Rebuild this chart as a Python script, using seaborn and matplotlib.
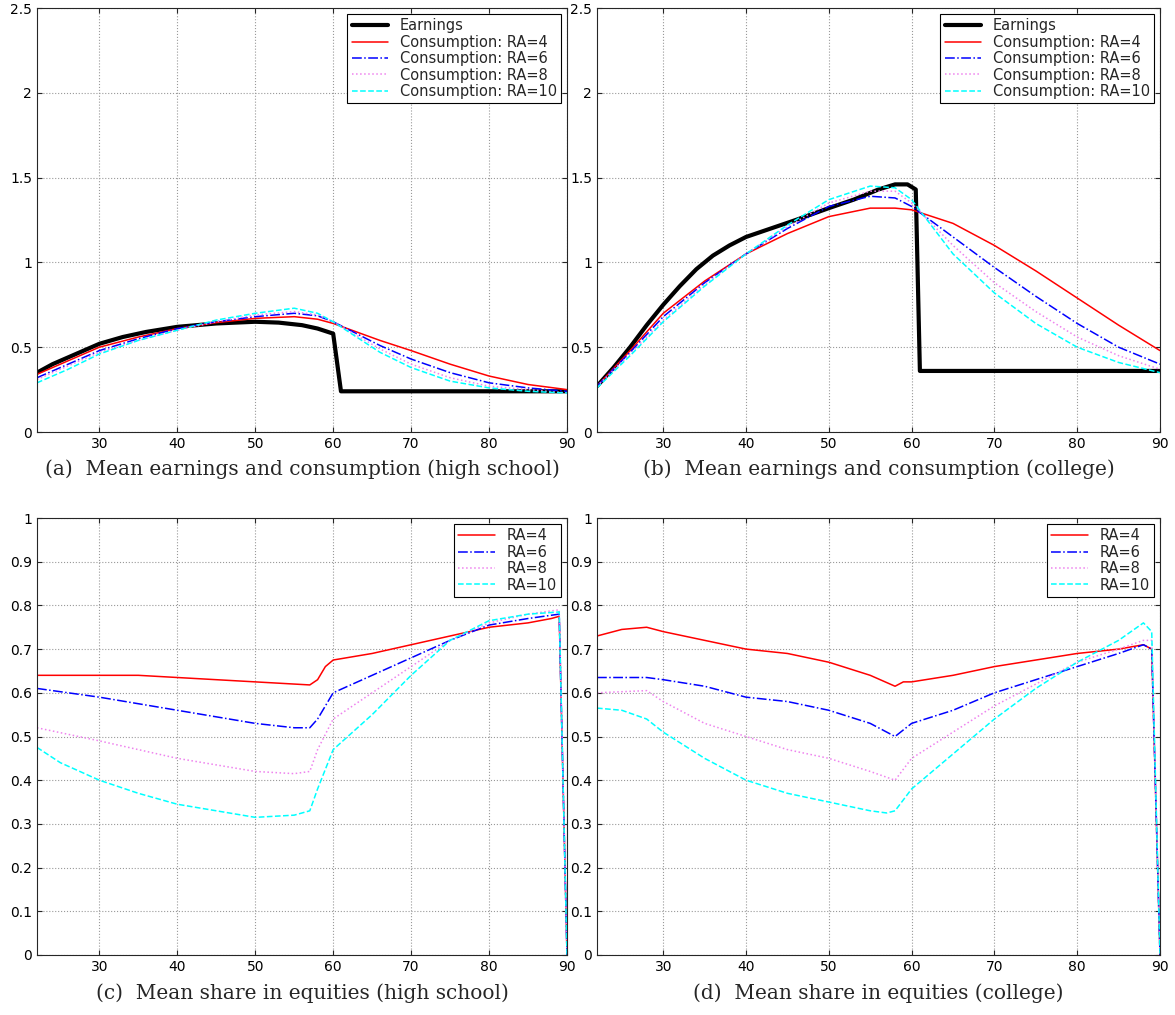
import numpy as np
import pandas as pd
import matplotlib
matplotlib.use("Agg")
import matplotlib.pyplot as plt
import seaborn as sns

sns.set_style("ticks")
plt.rcParams['font.family'] = ['DejaVu Sans']

# Panel (a)
a_earn_x = [22, 24, 26, 28, 30, 33, 36, 40, 45, 50, 53, 56, 58, 60, 61, 90]
a_earn_y = [0.35, 0.40, 0.44, 0.48, 0.52, 0.56, 0.59, 0.62, 0.64, 0.65, 0.645, 0.63, 0.61, 0.58, 0.24, 0.24]
a_x = [22, 26, 30, 35, 40, 45, 50, 55, 58, 60, 63, 66, 70, 75, 80, 85, 90]
a_ra4 = [0.34, 0.42, 0.50, 0.56, 0.61, 0.645, 0.67, 0.68, 0.665, 0.64, 0.59, 0.54, 0.48, 0.40, 0.33, 0.28, 0.25]
a_ra6 = [0.32, 0.40, 0.48, 0.55, 0.61, 0.65, 0.68, 0.70, 0.685, 0.65, 0.58, 0.51, 0.43, 0.35, 0.29, 0.26, 0.24]
a_ra8 = [0.31, 0.39, 0.47, 0.54, 0.60, 0.65, 0.69, 0.71, 0.69, 0.65, 0.57, 0.49, 0.40, 0.32, 0.27, 0.25, 0.23]
a_ra10 = [0.29, 0.37, 0.46, 0.54, 0.60, 0.66, 0.70, 0.73, 0.70, 0.65, 0.56, 0.47, 0.38, 0.30, 0.26, 0.24, 0.23]

# Panel (b)
b_earn_x = [22, 24, 26, 28, 30, 32, 34, 36, 38, 40, 43, 46, 50, 53, 56, 58, 59.5, 60.5, 61, 90]
b_earn_y = [0.27, 0.38, 0.50, 0.63, 0.75, 0.86, 0.96, 1.04, 1.10, 1.15, 1.20, 1.25, 1.32, 1.37, 1.43, 1.46, 1.46, 1.43, 0.36, 0.36]
b_x = [22, 26, 30, 35, 40, 45, 50, 55, 58, 60, 65, 70, 75, 80, 85, 90]
b_ra4 = [0.27, 0.48, 0.70, 0.89, 1.05, 1.17, 1.27, 1.32, 1.32, 1.31, 1.23, 1.10, 0.95, 0.79, 0.63, 0.48]
b_ra6 = [0.27, 0.47, 0.68, 0.88, 1.05, 1.20, 1.33, 1.39, 1.38, 1.33, 1.15, 0.97, 0.80, 0.64, 0.50, 0.40]
b_ra8 = [0.27, 0.46, 0.66, 0.87, 1.05, 1.21, 1.35, 1.42, 1.42, 1.35, 1.10, 0.88, 0.71, 0.56, 0.45, 0.37]
b_ra10 = [0.26, 0.45, 0.65, 0.86, 1.05, 1.22, 1.37, 1.45, 1.44, 1.37, 1.05, 0.82, 0.64, 0.50, 0.41, 0.35]

# Panel (c)
c_ra4_x = [22, 30, 35, 40, 45, 50, 55, 57, 58, 59, 60, 65, 70, 75, 80, 85, 88, 89, 90]
c_ra4_y = [0.64, 0.64, 0.64, 0.635, 0.63, 0.625, 0.62, 0.618, 0.63, 0.66, 0.675, 0.69, 0.71, 0.73, 0.75, 0.76, 0.77, 0.775, 0.0]
c_ra6_x = [22, 30, 40, 50, 55, 57, 58, 60, 65, 70, 75, 80, 85, 89, 90]
c_ra6_y = [0.61, 0.59, 0.56, 0.53, 0.52, 0.52, 0.54, 0.60, 0.64, 0.68, 0.72, 0.755, 0.77, 0.78, 0.0]
c_ra8_x = [22, 30, 40, 50, 55, 57, 58, 60, 65, 70, 75, 80, 85, 89, 90]
c_ra8_y = [0.52, 0.49, 0.45, 0.42, 0.415, 0.42, 0.47, 0.54, 0.60, 0.66, 0.72, 0.76, 0.78, 0.79, 0.0]
c_ra10_x = [22, 25, 30, 35, 40, 45, 50, 55, 57, 58, 60, 65, 70, 75, 80, 85, 89, 90]
c_ra10_y = [0.475, 0.44, 0.40, 0.37, 0.345, 0.33, 0.315, 0.32, 0.33, 0.38, 0.47, 0.55, 0.64, 0.72, 0.765, 0.78, 0.785, 0.0]

# Panel (d)
d_ra4_x = [22, 25, 28, 30, 35, 40, 45, 50, 55, 58, 59, 60, 65, 70, 75, 80, 85, 88, 89, 90]
d_ra4_y = [0.73, 0.745, 0.75, 0.74, 0.72, 0.70, 0.69, 0.67, 0.64, 0.615, 0.625, 0.625, 0.64, 0.66, 0.675, 0.69, 0.70, 0.71, 0.70, 0.0]
d_ra6_x = [22, 28, 30, 35, 40, 45, 50, 55, 58, 60, 65, 70, 75, 80, 85, 88, 89, 90]
d_ra6_y = [0.635, 0.635, 0.63, 0.615, 0.59, 0.58, 0.56, 0.53, 0.50, 0.53, 0.56, 0.60, 0.63, 0.66, 0.69, 0.71, 0.70, 0.0]
d_ra8_x = [22, 28, 30, 35, 40, 45, 50, 55, 58, 60, 65, 70, 75, 80, 85, 88, 89, 90]
d_ra8_y = [0.60, 0.605, 0.58, 0.53, 0.50, 0.47, 0.45, 0.42, 0.40, 0.45, 0.51, 0.57, 0.62, 0.67, 0.70, 0.72, 0.72, 0.0]
d_ra10_x = [22, 25, 28, 30, 35, 40, 45, 50, 55, 57, 58, 60, 65, 70, 75, 80, 85, 88, 89, 90]
d_ra10_y = [0.565, 0.56, 0.54, 0.51, 0.45, 0.40, 0.37, 0.35, 0.33, 0.325, 0.33, 0.38, 0.46, 0.54, 0.61, 0.67, 0.72, 0.76, 0.74, 0.0]

ra_styles = [("red", "-", "RA=4"), ("blue", "-.", "RA=6"), ("violet", ":", "RA=8"), ("cyan", "--", "RA=10")]

fig = plt.figure(figsize=(11.75, 10.15), dpi=100)
W, H = 1175, 1015
def mk(l, t, r, b):
    return fig.add_axes([l / W, 1 - b / H, (r - l) / W, (b - t) / H])

axA = mk(37, 8, 567, 432)
axB = mk(597, 8, 1160, 432)
axC = mk(37, 518, 567, 955)
axD = mk(597, 518, 1160, 955)

def style(ax, ymax, ystep, caption):
    ax.set_xlim(22, 90)
    ax.set_ylim(0, ymax)
    ax.set_xticks([30, 40, 50, 60, 70, 80, 90])
    vals = np.round(np.arange(0, ymax + 1e-9, ystep), 2)
    ax.set_yticks(vals)
    ax.set_yticklabels([f"{v:g}" for v in vals])
    ax.grid(True, linestyle=":", color="0.6", linewidth=0.8)
    ax.tick_params(direction="in", labelsize=10, top=True, right=True, labelcolor="black")
    for s in ax.spines.values():
        s.set_linewidth(0.8)
    ax.set_xlabel("")
    ax.set_ylabel("")
    ax.text(0.5, -0.065, caption, transform=ax.transAxes, ha="center", va="top",
            fontsize=14.5, family="DejaVu Serif")

def cons(ax, x, ys):
    for y, (c, ls, lab) in zip(ys, ra_styles):
        sns.lineplot(x=x, y=y, ax=ax, color=c, linestyle=ls, linewidth=1.1,
                     label="Consumption: " + lab)

sns.lineplot(x=a_earn_x, y=a_earn_y, ax=axA, color="black", linewidth=3, label="Earnings")
cons(axA, a_x, [a_ra4, a_ra6, a_ra8, a_ra10])
sns.lineplot(x=b_earn_x, y=b_earn_y, ax=axB, color="black", linewidth=3, label="Earnings")
cons(axB, b_x, [b_ra4, b_ra6, b_ra8, b_ra10])

for ax, data in [(axC, [(c_ra4_x, c_ra4_y), (c_ra6_x, c_ra6_y), (c_ra8_x, c_ra8_y), (c_ra10_x, c_ra10_y)]),
                 (axD, [(d_ra4_x, d_ra4_y), (d_ra6_x, d_ra6_y), (d_ra8_x, d_ra8_y), (d_ra10_x, d_ra10_y)])]:
    for (x, y), (c, ls, lab) in zip(data, ra_styles):
        sns.lineplot(x=x, y=y, ax=ax, color=c, linestyle=ls, linewidth=1.1, label=lab)

style(axA, 2.5, 0.5, "(a)  Mean earnings and consumption (high school)")
style(axB, 2.5, 0.5, "(b)  Mean earnings and consumption (college)")
style(axC, 1.0, 0.1, "(c)  Mean share in equities (high school)")
style(axD, 1.0, 0.1, "(d)  Mean share in equities (college)")

for ax in [axA, axB, axC, axD]:
    leg = ax.legend(loc="upper right", fontsize=10.5, fancybox=False, framealpha=1,
                    edgecolor="black", borderpad=0.3, labelspacing=0.1, handlelength=2.5,
                    borderaxespad=0.4)
    leg.get_frame().set_linewidth(0.8)

fig.savefig("out.png", dpi=100)
